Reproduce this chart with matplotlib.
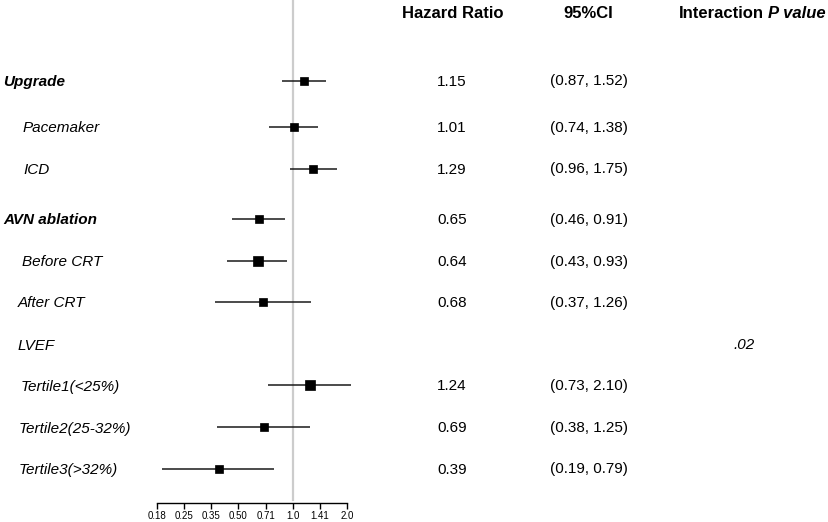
import numpy as np
import matplotlib
matplotlib.use("Agg")
import matplotlib.pyplot as plt

plt.rcParams['font.family'] = ['Liberation Sans', 'DejaVu Sans']

# ---- data ----
labels = ["Upgrade", "Pacemaker", "ICD", "AVN ablation", "Before CRT", "After CRT",
          "LVEF", "Tertile1(<25%)", "Tertile2(25-32%)", "Tertile3(>32%)"]
bold_rows = [True, False, False, True, False, False, False, False, False, False]
hr = [1.15, 1.01, 1.29, 0.65, 0.64, 0.68, np.nan, 1.24, 0.69, 0.39]
lo = [0.87, 0.74, 0.96, 0.46, 0.43, 0.37, np.nan, 0.73, 0.38, 0.19]
hi = [1.52, 1.38, 1.75, 0.91, 0.93, 1.26, np.nan, 2.10, 1.25, 0.79]
hr_text = ["1.15", "1.01", "1.29", "0.65", "0.64", "0.68", "", "1.24", "0.69", "0.39"]
ci_text = ["(0.87, 1.52)", "(0.74, 1.38)", "(0.96, 1.75)", "(0.46, 0.91)", "(0.43, 0.93)",
           "(0.37, 1.26)", "", "(0.73, 2.10)", "(0.38, 1.25)", "(0.19, 0.79)"]
p_text = ["", "", "", "", "", "", ".02", "", "", ""]
tick_vals = [2 ** -2.5, 0.25, 2 ** -1.5, 0.5, 2 ** -0.5, 1.0, 2 ** 0.5, 2.0]
tick_labels = ["0.18", "0.25", "0.35", "0.50", "0.71", "1.0", "1.41", "2.0"]

# ---- layout (pixels) ----
W, H = 829, 522
row_y = [80.5, 127, 168.5, 218.7, 261, 301.7, 345, 385, 427, 468.5]
label_x = [3, 23, 23, 3, 22, 18, 18, 21, 19, 19]
box_size = [6.0, 6.0, 6.0, 6.0, 6.6, 6.0, 0, 6.6, 6.0, 5.6]

fig = plt.figure(figsize=(W / 100, H / 100), dpi=100)

# overlay for text in pixel coordinates
tx = fig.add_axes([0, 0, 1, 1])
tx.set_xlim(0, W)
tx.set_ylim(H, 0)
tx.axis('off')

fs = 11
for i, lab in enumerate(labels):
    tx.text(label_x[i], row_y[i] + 1.5, lab, fontsize=fs, style='italic',
            weight='bold' if bold_rows[i] else 'normal', va='center', ha='left')
    if hr_text[i]:
        tx.text(437, row_y[i] + 1, hr_text[i], fontsize=fs, va='center', ha='left')
    if ci_text[i]:
        tx.text(550, row_y[i] + 1, ci_text[i], fontsize=fs, va='center', ha='left')
    if p_text[i]:
        tx.text(733, row_y[i], p_text[i], fontsize=fs, style='italic', va='center', ha='left')

hy = 14
hfs = 12
tx.text(402, hy, "Hazard Ratio", fontsize=hfs, weight='bold', va='center', ha='left')
tx.text(563, hy, "95%CI", fontsize=hfs, weight='bold', va='center', ha='left')
pv = tx.text(826, hy, "P value", fontsize=hfs, weight='bold', style='italic', va='center', ha='right')
fig.canvas.draw()
bb = pv.get_window_extent(fig.canvas.get_renderer())
tx.text(bb.x0 - 4, hy, "Interaction", fontsize=hfs, weight='bold', va='center', ha='right')

# forest axes
x0, x1 = 156.7, 347.3
ax = fig.add_axes([x0 / W, 0, (x1 - x0) / W, 1])
ax.set_xscale('log')
ax.set_xlim(2 ** -2.5, 2.0)
ax.set_ylim(H, 0)
ax.patch.set_alpha(0)

ax.plot([1, 1], [0, 500], color='#cccccc', lw=1.6, zorder=1, clip_on=False)

for i in range(len(labels)):
    if np.isnan(hr[i]):
        continue
    ax.plot([lo[i], hi[i]], [row_y[i], row_y[i]], color='#1a1a1a', lw=1.1,
            solid_capstyle='butt', zorder=2, clip_on=False)
    ax.plot([hr[i]], [row_y[i]], marker='s', color='black', markersize=box_size[i],
            markeredgewidth=0.5, markeredgecolor='black', zorder=3, clip_on=False)

for s in ['top', 'right', 'left']:
    ax.spines[s].set_visible(False)
ax.spines['bottom'].set_position(('data', 502.7))
ax.spines['bottom'].set_linewidth(1.0)
ax.set_yticks([])
ax.xaxis.set_minor_locator(matplotlib.ticker.NullLocator())
ax.set_xticks(tick_vals)
ax.set_xticklabels(tick_labels)
ax.tick_params(axis='x', direction='out', length=4, width=1.0, labelsize=7, pad=2)

fig.savefig("out.png", dpi=100)
